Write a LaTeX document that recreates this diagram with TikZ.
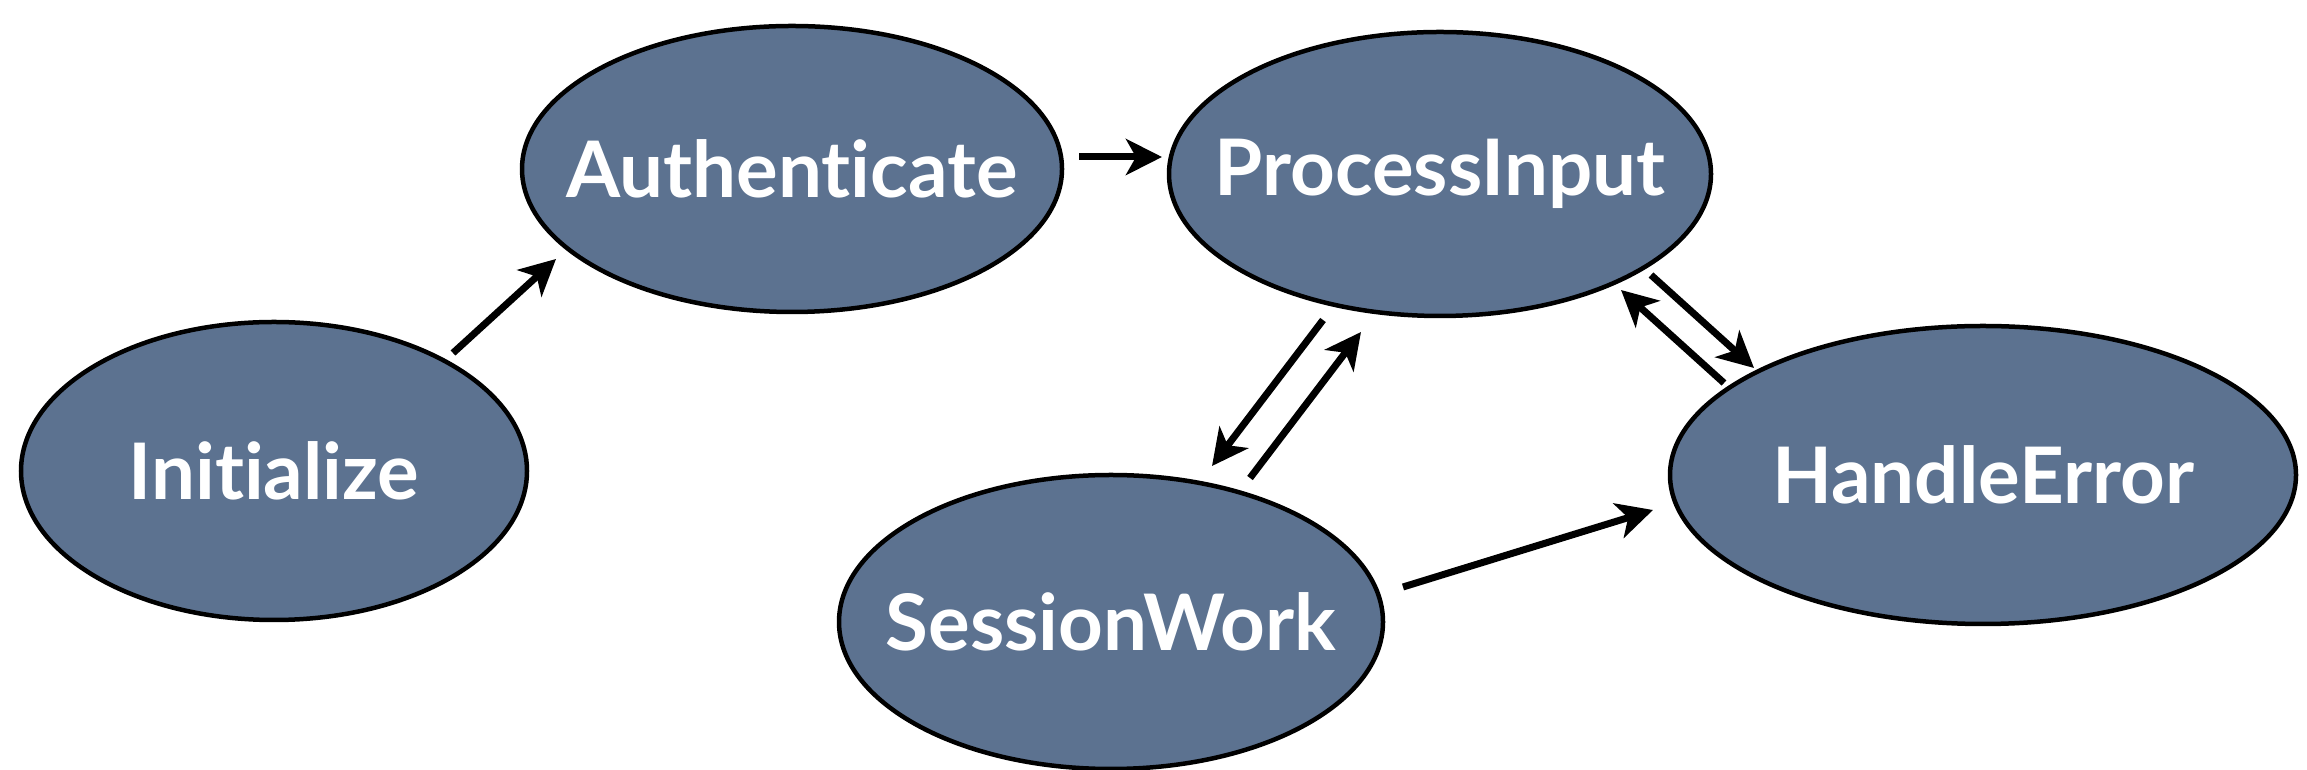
\documentclass[tikz,border=0pt]{standalone}
\usepackage{fontspec}
\setmainfont{Lato}[Ligatures=NoCommon]
\usetikzlibrary{shapes.geometric,arrows.meta,calc}
\definecolor{statefill}{RGB}{92,114,144}
\tikzset{
  state/.style={ellipse, draw=black, line width=4.5pt, fill=statefill, inner sep=0pt,
    text=white, font=\bfseries\fontsize{78}{88}\selectfont},
  arr/.style={line width=7pt, -{Stealth[length=36pt, width=36pt, inset=10pt]}}
}
\newcommand{\lbl}[1]{\makebox[0pt]{#1}}
\begin{document}
\begin{tikzpicture}[x=1pt,y=1pt]
\useasboundingbox (0,0) rectangle (2307,770);
\node[state, minimum width=506pt, minimum height=298pt] (init) at (274,299) {\lbl{Initialize}};
\node[state, minimum width=540pt, minimum height=286pt] (auth) at (792,601) {\lbl{Authenticate}};
\node[state, minimum width=542pt, minimum height=284pt] (pi) at (1440,596) {\lbl{ProcessInput}};
\node[state, minimum width=544pt, minimum height=294pt] (sw) at (1111,148) {\lbl{SessionWork}};
\node[state, minimum width=626pt, minimum height=298pt] (he) at (1983,295) {\lbl{HandleError}};

\draw[arr] ($(init)+(179,118)$) -- ($(auth)+(-236,-90)$);
\draw[arr] ($(auth)+(287,12)$) -- ($(pi)+(-278,17)$);
\draw[arr] ($(pi)+(-117,-146)$) -- ($(sw)+(101,156)$);
\draw[arr] ($(sw)+(139,144)$) -- ($(pi)+(-79,-158)$);
\draw[arr] ($(pi)+(211,-101)$) -- ($(he)+(-229,107)$);
\draw[arr] ($(he)+(-259,92)$) -- ($(pi)+(181,-116)$);
\draw[arr] ($(sw)+(292,35)$) -- ($(he)+(-330,-35)$);
\end{tikzpicture}
\end{document}
